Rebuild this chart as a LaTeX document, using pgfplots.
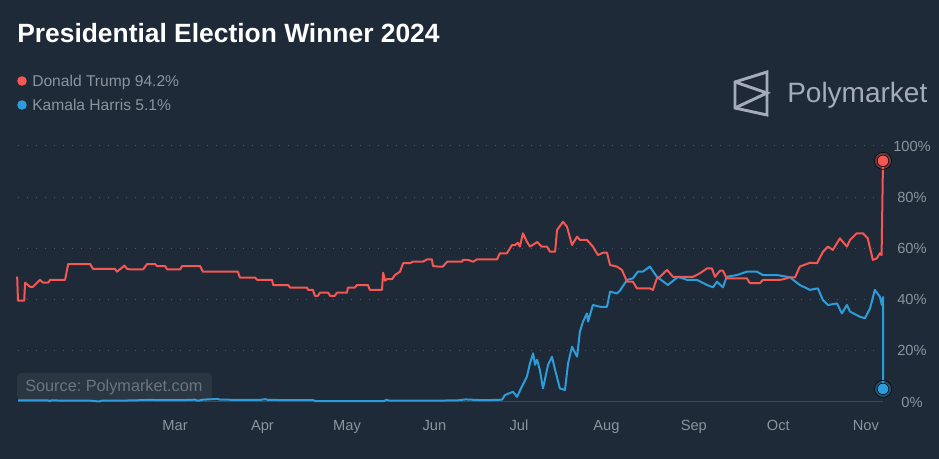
\documentclass[border=0pt]{standalone}
\usepackage{pgfplots}
\pgfplotsset{compat=1.18}
\usepackage{fontspec}
\setmainfont{Liberation Sans}
\frenchspacing
\definecolor{bg}{RGB}{30,42,56}
\definecolor{gridc}{RGB}{78,89,104}
\definecolor{basec}{RGB}{62,74,90}
\definecolor{labc}{RGB}{140,148,158}
\definecolor{logoc}{RGB}{165,172,185}
\definecolor{srcc}{RGB}{108,118,130}
\definecolor{trump}{RGB}{245,88,82}
\definecolor{harris}{RGB}{45,156,219}
\begin{document}
\begin{tikzpicture}[x=1pt,y=1pt]
\path[use as bounding box] (0,0) rectangle (704.25,344.25);
\fill[bg] (0,0) rectangle (704.25,344.25);
\begin{axis}[
  at={(13.5pt,42.75pt)}, anchor=south west,
  scale only axis, width=648.75pt, height=192pt,
  xmin=4.3, xmax=311.1, ymin=0, ymax=100,
  clip=false,
  axis line style={draw=none},
  major tick length=0pt,
  xtick={60,91,121,152,182,213,244,274,305},
  xticklabels={Mar,Apr,May,Jun,Jul,Aug,Sep,Oct,Nov},
  xticklabel style={anchor=base, yshift=-21.75pt, font=\fontsize{11}{13}\selectfont, text=labc},
  ytick={0,20,40,60,80,100},
  yticklabels={0\%,20\%,40\%,60\%,80\%,100\%},
  yticklabel pos=right,
  yticklabel style={anchor=center, xshift=21.75pt, font=\fontsize{11}{13}\selectfont, text=labc},
  ymajorgrids,
  grid style={gridc, line width=0.75pt, dash pattern=on 0.75pt off 6pt},
]
\draw[basec, line width=0.75pt] (axis cs:4.3,0) -- (axis cs:311.1,0);
% Harris
\addplot[harris, line width=1.5pt, line join=round] coordinates {
(4.3,0.6)(15,0.6)(15.5,0.3)(16,0.6)(30,0.5)(33,0.2)(34,0.5)(45,0.6)(50,0.8)(62,0.7)(67,0.9)(68,0.5)(70,0.9)
(75,1.2)(76,0.9)(90,0.8)(92,1.1)(93,0.8)(109,0.7)(110,0.3)(134,0.3)(135,0.9)(136,0.5)(160,0.6)(163,1.0)
(167,0.8)(170,0.7)(176,0.9)(177,2.7)(179.9,4.0)(181.3,2.0)(182.3,4.4)(184.8,9.9)(185.9,15.1)(187.0,19.0)
(187.7,14.5)(188.4,16.5)(189.4,12.5)(190.5,5.3)(192.3,14.5)(193.7,17.7)(194.8,12.5)(196.5,5.3)(198.3,4.7)
(199.4,15.1)(200.8,21.6)(202.6,17.7)(203.6,27.5)(204.7,31.4)(206.1,34.6)(206.5,31.4)(208.2,37.9)(210.7,37.2)
(213.2,37.2)(214.3,43.1)(216.7,42.4)(217.8,43.5)(220.3,47.7)(222.4,48.3)(224.1,50.9)(225.9,50.9)(228.4,52.9)
(230.9,48.9)(234.8,45.7)(238.4,48.9)(241.6,47.7)(245.1,47.7)(248.7,45.7)(250.8,44.8)(252.2,47.0)(254.3,44.8)
(255.7,48.9)(259.3,49.6)(262.8,50.9)(266.4,50.9)(268.5,49.6)(273.5,49.6)(278.1,48.7)(281.6,45.7)(285.2,43.8)
(288.0,44.4)(289.8,39.8)(291.6,37.9)(294.8,38.5)(296.5,34.6)(298.3,37.9)(299.4,35.3)(302.9,33.3)(304.7,32.7)
(306.5,36.6)(308.2,43.8)(310.0,41.1)(310.7,37.9)(311.1,41.0)(311.1,5.1)
};
% Trump
\addplot[trump, line width=1.5pt, line join=round] coordinates {
(4.0,49.0)(4.3,39.6)(6.5,39.6)(6.8,46.6)(8.6,45.0)(9.6,45.0)(12.1,47.7)(13.2,46.6)(15.0,46.6)(15.7,47.7)
(21.0,47.7)(22.1,53.9)(29.9,53.9)(30.9,52.0)(38.7,52.0)(39.4,50.9)(41.2,52.5)(42.0,53.3)(43.0,52.0)(44.0,51.8)
(48.7,51.8)(50.1,53.9)(52.9,53.9)(53.6,53.1)(56.5,53.1)(57.2,51.8)(61.8,51.8)(62.5,53.1)(68.9,53.1)(69.9,50.9)
(82.3,50.9)(83.0,48.6)(88.4,48.6)(89.1,47.7)(94.4,47.7)(94.8,45.7)(100.1,45.7)(100.8,44.7)(106.8,44.7)
(107.2,43.8)(108.9,43.8)(109.6,41.5)(110.7,41.5)(111.4,42.7)(114.3,42.7)(115.0,41.5)(116.7,41.5)(117.4,42.7)
(121.0,42.7)(121.3,44.7)(123.8,44.7)(124.5,45.7)(128.4,45.7)(129.1,43.8)(133.4,43.8)(133.8,50.5)(134.5,47.4)
(135.2,48.0)(137.0,48.0)(138.0,49.6)(139.8,50.9)(140.9,54.2)(143.3,54.2)(144.4,54.8)(147.9,54.8)(149.4,55.7)
(151.1,55.7)(151.5,53.1)(153.3,52.9)(155.0,52.9)(156.5,54.8)(161.8,54.8)(162.1,55.5)(163.9,55.5)(165.7,54.8)
(167.1,55.7)(174.2,55.7)(175.2,58.1)(177.7,58.1)(179.5,61.3)(180.6,61.3)(181.6,62.2)(182.3,60.7)(183.4,65.9)
(184.8,62.6)(185.9,60.7)(188.5,62.5)(190,60.7)(191.9,60.7)(193.0,58.7)(194.8,58.7)(195.5,67.2)(197.6,70.4)
(199.0,68.5)(200.8,61.3)(202.6,64.6)(203.6,63.3)(206.1,63.3)(208.2,60.7)(210.0,57.4)(211.8,58.3)(213.2,58.3)
(214.3,53.5)(216.7,52.9)(218.5,51.6)(220.3,47.0)(222.4,47.0)(223.8,44.4)(228.4,44.4)(229.5,43.8)(230.9,48.3)
(232.0,48.9)(234.5,51.6)(236.6,48.9)(243.7,48.9)(246.2,50.3)(248.7,52.2)(250.4,52.2)(251.5,48.9)(253.3,51.3)
(254.3,51.3)(255.7,48.3)(262.8,48.3)(263.9,46.4)(267.4,46.4)(268.5,47.7)(274.5,47.7)(275.6,47.9)(278.1,48.7)
(279.9,48.7)(281.6,52.9)(285.2,54.4)(287.7,54.2)(289.8,58.7)(291.6,60.7)(293.3,59.4)(295.8,63.9)(298.3,60.7)
(299.4,63.3)(301.8,65.9)(304.0,65.9)(305.7,63.9)(307.5,55.5)(308.9,56.1)(310.0,58.1)(310.6,57.4)(311.1,94.2)
};
% end markers
\addplot[only marks, mark=*, mark size=6.4pt, mark options={draw=none, fill=trump, fill opacity=0.35}] coordinates {(311.1,94.2)};
\addplot[only marks, mark=*, mark size=4.3pt, mark options={draw=none, fill=trump}] coordinates {(311.1,94.2)};
\addplot[only marks, mark=*, mark size=6.4pt, mark options={draw=none, fill=harris, fill opacity=0.35}] coordinates {(311.1,5.1)};
\addplot[only marks, mark=*, mark size=4.3pt, mark options={draw=none, fill=harris}] coordinates {(311.1,5.1)};
\end{axis}
% source box
\fill[white, opacity=0.06, rounded corners=3pt] (12.75,44.25) rectangle (159,64.5);
\node[anchor=base west, inner sep=0pt, text=srcc, font=\fontsize{12.2}{14}\selectfont] at (18.75,50.25) {Source: Polymarket.com};
% title
\node[anchor=base west, inner sep=0pt, text=white, font=\fontsize{19.8}{22}\selectfont\bfseries] at (12.75,312) {Presidential Election Winner 2024};
% legend
\fill[trump] (16.5,283.5) circle (3.6);
\node[anchor=base west, inner sep=0pt, text=labc, font=\fontsize{11.7}{14}\selectfont] at (24,279) {Donald Trump 94.2\%};
\fill[harris] (16.5,265.5) circle (3.6);
\node[anchor=base west, inner sep=0pt, text=labc, font=\fontsize{11.7}{14}\selectfont] at (24,261) {Kamala Harris 5.1\%};
% logo
\begin{scope}[logoc, line width=2.2pt, line join=miter]
\draw (551.25,282.75) -- (575.25,290.25) -- (575.25,258) -- (551.25,263.25) -- cycle;
\draw (551.25,282.75) -- (575.25,274.5) -- (551.25,263.25);
\end{scope}
\node[anchor=base west, inner sep=0pt, text=logoc, font=\fontsize{21}{24}\selectfont] at (590.25,267) {Polymarket};
\end{tikzpicture}
\end{document}
